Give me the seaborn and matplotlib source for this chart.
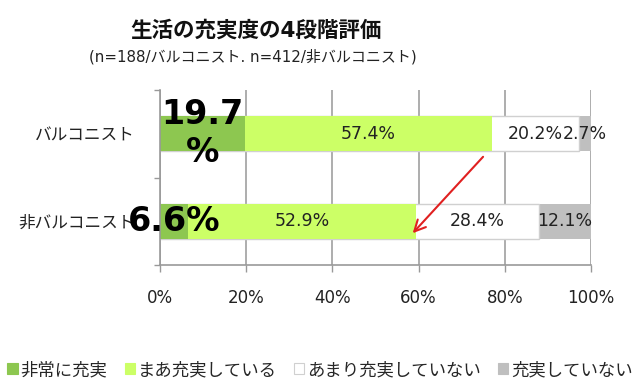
import matplotlib
matplotlib.use("Agg")
import matplotlib.pyplot as plt
from matplotlib.patches import Patch
import seaborn as sns
import pandas as pd
import numpy as np

sns.set_theme(style="white")
plt.rcParams['font.family'] = ['DejaVu Sans', 'Noto Sans CJK JP']

categories = ["バルコニスト", "非バルコニスト"]
series_names = ["非常に充実", "まあ充実している", "あまり充実していない", "充実していない"]
very = [19.7, 6.6]
somewhat = [57.4, 52.9]
not_much = [20.2, 28.4]
not_at_all = [2.7, 12.1]
xticks = [0, 20, 40, 60, 80, 100]
xtick_labels = ["0%", "20%", "40%", "60%", "80%", "100%"]

colors = ["#8DC750", "#CCFF66", "#FFFFFF", "#BFBFBF"]
edges = [None, None, "#D0D0D0", None]
series = [very, somewhat, not_much, not_at_all]

fig = plt.figure(figsize=(6.4, 3.89), dpi=100)
ax = fig.add_axes([0.25, 0.3188, 0.6734, 0.4498])

cum = np.cumsum(np.array(series), axis=0)
# draw from the largest cumulative to smallest so earlier segments overlay
for i in range(len(series) - 1, -1, -1):
    df = pd.DataFrame({"cat": categories, "val": cum[i]})
    if edges[i]:
        kw = dict(edgecolor=edges[i], linewidth=1.0)
    else:
        kw = dict(linewidth=0)
    sns.barplot(data=df, x="val", y="cat", color=colors[i], saturation=1,
                width=0.4, ax=ax, zorder=2, **kw)

# labels
for j in range(len(categories)):
    start = 0
    for i, s in enumerate(series):
        v = s[j]
        c = start + v / 2
        if i == 0:
            txt = "19.7\n%" if j == 0 else f"{v}%"
            ax.text(c, j, txt, ha="center", va="center", fontsize=24,
                    fontweight="bold", color="#000000", linespacing=1.2, zorder=5)
        else:
            ax.text(c, j, f"{v}%", ha="center", va="center", fontsize=12.5,
                    color="#222222", zorder=5)
        start += v

ax.set_xlim(0, 100)
ax.set_ylim(1.5, -0.5)
ax.set_xticks(xticks)
ax.set_xticklabels(xtick_labels, fontsize=12, color="#222222")
ax.set_xlabel("")
ax.set_ylabel("")
ax.set_yticks([0, 1])
ax.set_yticklabels(categories, fontsize=12, color="#222222")
ax.set_yticks([-0.5, 0.5, 1.5], minor=True)
ax.tick_params(axis="y", which="major", length=0, pad=18)
ax.tick_params(axis="y", which="minor", length=4, width=1, color="#999999", left=True)
ax.tick_params(axis="x", which="major", length=5, width=1, color="#999999", bottom=True, pad=12)

ax.xaxis.grid(True, color="#A0A0A0", linewidth=1.2, zorder=0)
ax.yaxis.grid(False)
ax.set_axisbelow(True)
for side in ["top", "right"]:
    ax.spines[side].set_visible(False)
for side in ["left", "bottom"]:
    ax.spines[side].set_color("#999999")
    ax.spines[side].set_linewidth(1.2)

ax.annotate("", xy=(58.2, 1.16), xytext=(75.4, 0.24),
            arrowprops=dict(arrowstyle="->", color="#E02020", lw=1.5,
                            mutation_scale=20), zorder=6)

fig.text(0.40, 1 - 30 / 389, "生活の充実度の4段階評価", ha="center", va="center",
         fontsize=15.5, fontweight="bold", color="#111111")
fig.text(0.395, 1 - 57 / 389, "(n=188/バルコニスト. n=412/非バルコニスト)", ha="center",
         va="center", fontsize=10.8, color="#222222")

handles = [Patch(facecolor=colors[i], edgecolor=(edges[i] or colors[i]), linewidth=0.8)
           for i in range(4)]
fig.legend(handles, series_names, loc="center", bbox_to_anchor=(0.5, 1 - 370 / 389),
           ncol=4, frameon=False, fontsize=12.5, handlelength=0.6, handleheight=0.6,
           handletextpad=0.15, columnspacing=1.0, borderaxespad=0)

fig.savefig("out.png", dpi=100, facecolor="white")
